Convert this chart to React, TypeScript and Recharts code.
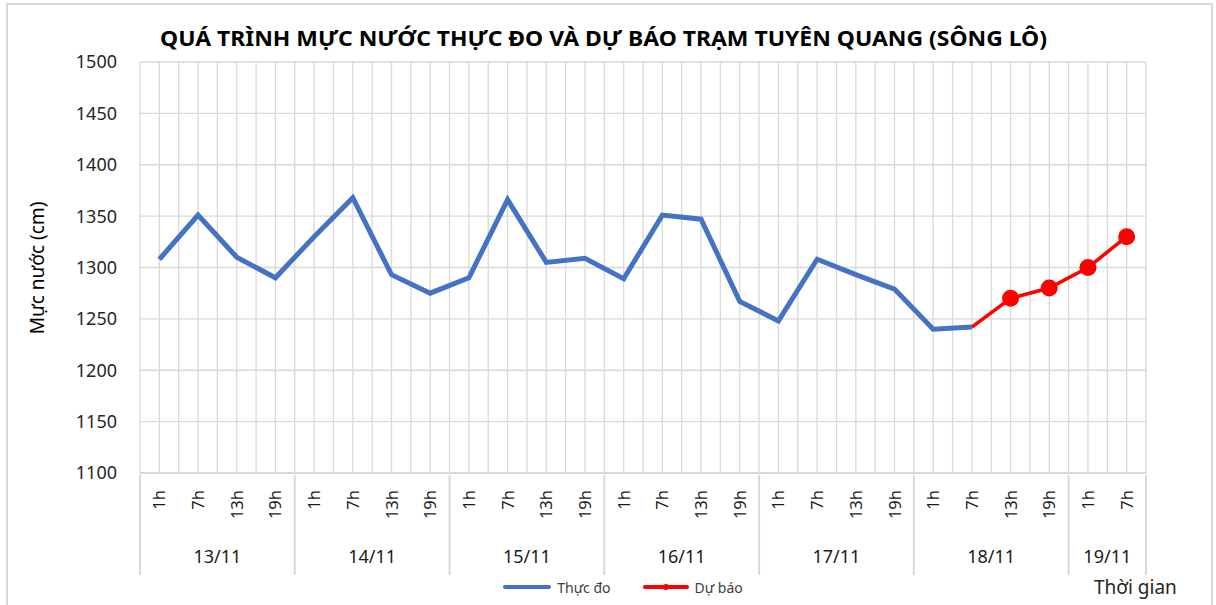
import React from "react";
import {
  LineChart,
  Line,
  XAxis,
  YAxis,
  CartesianGrid,
  Legend,
} from "recharts";

const HOURS = ["1h", "7h", "13h", "19h", "1h", "7h", "13h", "19h", "1h", "7h", "13h", "19h", "1h", "7h", "13h", "19h", "1h", "7h", "13h", "19h", "1h", "7h", "13h", "19h", "1h", "7h"];
const DATES = ["13/11", "14/11", "15/11", "16/11", "17/11", "18/11", "19/11"];
const DATE_SIZES = [4, 4, 4, 4, 4, 4, 2];

// mực nước thực đo (cm), tới 7h 18/11
const MEASURED = [1308, 1351, 1310, 1290, 1330, 1368, 1293, 1275, 1290, 1366, 1305, 1309, 1289, 1351, 1347, 1267, 1248, 1308, 1293, 1279, 1240, 1242];
// dự báo, bắt đầu từ 7h 18/11
const FORECAST = [1242, 1270, 1280, 1300, 1330];
const FORECAST_START = 21;

const Y_TICKS = [1100, 1150, 1200, 1250, 1300, 1350, 1400, 1450, 1500];

const BLUE = "#4472C4";
const RED = "#FF0000";
const GRID = "#d9d9d9";
const FONT = "'Noto Sans', 'Open Sans', sans-serif";

const data = HOURS.map((h, i) => ({
  x: i,
  hour: h,
  measured: i < MEASURED.length ? MEASURED[i] : null,
  forecast: i >= FORECAST_START ? FORECAST[i - FORECAST_START] : null,
}));

// group boundaries (in category units)
const boundaries: number[] = [-0.5];
DATE_SIZES.forEach((n) => boundaries.push(boundaries[boundaries.length - 1] + n));

// vertical grid at every half category
const halfTicks: number[] = [];
for (let v = -0.5; v <= HOURS.length - 0.5; v += 0.5) halfTicks.push(v);

const groupCenters = DATE_SIZES.map((n, i) => boundaries[i] + n / 2);

const HourTick = (props: any) => {
  const { x, y, payload } = props;
  const v = payload.value;
  const parts: React.ReactNode[] = [];
  if (Number.isInteger(v)) {
    parts.push(
      <text
        key="t"
        x={0}
        y={0}
        transform={`translate(${x + 6},${y + 9}) rotate(-90)`}
        textAnchor="end"
        fontSize={16.5}
        fontFamily={FONT}
        fill="#1a1a1a"
      >
        {HOURS[v]}
      </text>
    );
  }
  if (boundaries.includes(v)) {
    parts.push(
      <line key="l" x1={x} x2={x} y1={y - 6} y2={y + 94} stroke={GRID} strokeWidth={2} />
    );
  }
  return <g>{parts}</g>;
};

const DateTick = (props: any) => {
  const { x, y, index } = props;
  return (
    <text
      x={x}
      y={y + 25}
      textAnchor="middle"
      fontSize={18}
      fontFamily={FONT}
      fill="#1a1a1a"
    >
      {DATES[index] ?? ""}
    </text>
  );
};

const ForecastDot = (props: any) => {
  const { cx, cy, index } = props;
  if (index <= FORECAST_START || cy == null) return <g key={`d-${index}`} />;
  return <circle key={`d-${index}`} cx={cx} cy={cy} r={8.5} fill={RED} />;
};

const LegendContent = () => (
  <div
    style={{
      height: 26,
      display: "flex",
      justifyContent: "center",
      alignItems: "center",
      paddingLeft: 100,
      fontFamily: FONT,
      fontSize: 14,
      color: "#404040",
    }}
  >
    <span style={{ display: "inline-block", width: 48, height: 4, background: BLUE, borderRadius: 2, marginRight: 6 }} />
    <span style={{ marginRight: 32 }}>Thực đo</span>
    <span style={{ position: "relative", display: "inline-block", width: 46, height: 4, background: RED, borderRadius: 2, marginRight: 6 }}>
      <span style={{ position: "absolute", left: 20, top: -1, width: 6, height: 6, borderRadius: 3, background: RED }} />
    </span>
    <span>Dự báo</span>
  </div>
);

export default function App() {
  return (
    <div
      style={{
        position: "absolute",
        left: 0,
        top: 0,
        width: 1216,
        height: 605,
        background: "#fff",
        overflow: "hidden",
      }}
    >
      <div
        style={{
          position: "absolute",
          left: 6,
          top: 3,
          width: 1207,
          height: 620,
          border: `2px solid ${GRID}`,
          boxSizing: "border-box",
        }}
      />
      <svg style={{ position: "absolute", left: 0, top: 0 }} width={1216} height={60}>
        <text
          x={160}
          y={46}
          textLength={887}
          lengthAdjust="spacingAndGlyphs"
          fontSize={22}
          fontWeight="bold"
          fontFamily={FONT}
          fill="#000"
        >
          QUÁ TRÌNH MỰC NƯỚC THỰC ĐO VÀ DỰ BÁO TRẠM TUYÊN QUANG (SÔNG LÔ)
        </text>
      </svg>
      <div
        style={{
          position: "absolute",
          left: 37,
          top: 268,
          transform: "translate(-50%, -50%) rotate(-90deg)",
          whiteSpace: "nowrap",
          fontFamily: FONT,
          fontSize: 19,
          color: "#000",
        }}
      >
        Mực nước (cm)
      </div>
      <div
        style={{
          position: "absolute",
          left: 1094,
          top: 574,
          whiteSpace: "nowrap",
          fontFamily: FONT,
          fontSize: 19,
          color: "#262626",
        }}
      >
        Thời gian
      </div>
      <LineChart
        width={1216}
        height={605}
        data={data}
        margin={{ top: 62, right: 70, left: 0, bottom: 0 }}
        style={{ position: "absolute", left: 0, top: 0 }}
      >
        <CartesianGrid xAxisId="a" stroke={GRID} strokeWidth={1.3} />
        <XAxis
          xAxisId="a"
          dataKey="x"
          type="number"
          domain={[-0.5, HOURS.length - 0.5]}
          ticks={halfTicks}
          interval={0}
          tick={<HourTick />}
          tickLine={false}
          axisLine={{ stroke: GRID, strokeWidth: 2 }}
          height={57}
        />
        <XAxis
          xAxisId="b"
          dataKey="x"
          type="number"
          domain={[-0.5, HOURS.length - 0.5]}
          ticks={groupCenters}
          interval={0}
          tick={<DateTick />}
          tickLine={false}
          axisLine={false}
          height={49}
        />
        <YAxis
          domain={[1100, 1500]}
          ticks={Y_TICKS}
          interval={0}
          width={140}
          tickLine={false}
          axisLine={false}
          tickSize={0}
          tickMargin={23}
          tick={{ fontSize: 18, fontFamily: FONT, fill: "#262626" }}
        />
        <Legend verticalAlign="bottom" wrapperStyle={{ bottom: 5 }} content={<LegendContent />} />
        <Line
          xAxisId="a"
          dataKey="measured"
          name="Thực đo"
          stroke={BLUE}
          strokeWidth={5}
          dot={false}
          connectNulls={false}
          isAnimationActive={false}
        />
        <Line
          xAxisId="a"
          dataKey="forecast"
          name="Dự báo"
          stroke={RED}
          strokeWidth={3.5}
          dot={ForecastDot}
          connectNulls={false}
          isAnimationActive={false}
        />
      </LineChart>
    </div>
  );
}
